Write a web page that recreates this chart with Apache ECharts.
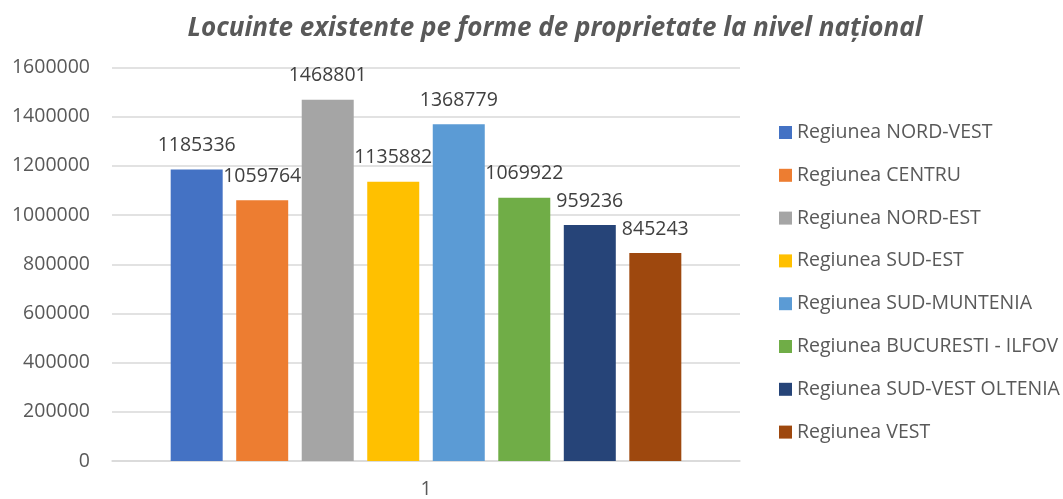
<!DOCTYPE html>
<html>
<head>
<meta charset="utf-8">
<script src="https://cdn.jsdelivr.net/npm/echarts@6/dist/echarts.min.js"></script>
<style>html,body{margin:0;padding:0;background:#fff}#c{width:1063px;height:499px}</style>
</head>
<body>
<div id="c"></div>
<script>
const categories = ['1'];
const seriesNames = ['Regiunea NORD-VEST','Regiunea CENTRU','Regiunea NORD-EST','Regiunea SUD-EST','Regiunea SUD-MUNTENIA','Regiunea BUCURESTI - ILFOV','Regiunea SUD-VEST OLTENIA','Regiunea VEST'];
const seriesValues = [1185336, 1059764, 1468801, 1135882, 1368779, 1069922, 959236, 845243];
const colors = ['#4472C4','#ED7D31','#A5A5A5','#FFC000','#5B9BD5','#70AD47','#264478','#9E480E'];
const yTicks = [0, 200000, 400000, 600000, 800000, 1000000, 1200000, 1400000, 1600000];

const FONT = 'Open Sans';
const chart = echarts.init(document.getElementById('c'));
chart.setOption({
  animation: false,
  color: colors,
  title: {
    text: 'Locuinte existente pe forme de proprietate la nivel național',
    left: 550, textAlign: 'center', top: 11,
    textStyle: {fontFamily: FONT, fontSize: 26, fontWeight: 'bold', fontStyle: 'italic', color: '#595959'}
  },
  grid: {left: 112, right: 323, top: 67.5, bottom: 36},
  legend: {
    orient: 'vertical', left: 779, top: 122.5, padding: 0,
    itemWidth: 13, itemHeight: 13, itemGap: 22.8, icon: 'rect',
    data: seriesNames,
    textStyle: {fontFamily: FONT, fontSize: 19.5, color: '#595959'}
  },
  xAxis: {
    type: 'category', data: categories,
    axisLine: {lineStyle: {color: '#d9d9d9', width: 1.5}},
    axisTick: {show: false},
    axisLabel: {fontFamily: FONT, fontSize: 19.5, color: '#595959', margin: 18}
  },
  yAxis: {
    type: 'value', min: yTicks[0], max: yTicks[yTicks.length-1], interval: 200000,
    axisLine: {show: false}, axisTick: {show: false},
    splitLine: {lineStyle: {color: '#d9d9d9', width: 1.5}},
    axisLabel: {fontFamily: FONT, fontSize: 19.5, color: '#595959', margin: 22, formatter: v => String(v)}
  },
  series: seriesNames.map((n, i) => ({
    name: n, type: 'bar', data: [seriesValues[i]],
    barWidth: 52, barGap: '26%',
    label: {show: true, position: 'top', distance: 14, fontFamily: FONT, fontSize: 19.5, color: '#404040'}
  }))
});
</script>
</body>
</html>
